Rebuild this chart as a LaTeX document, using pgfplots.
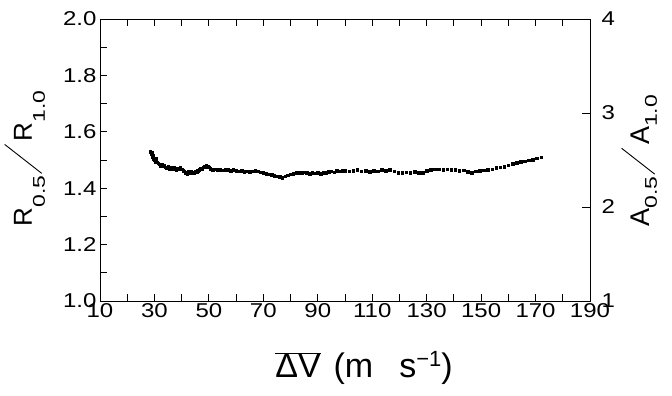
\documentclass[border=0pt]{standalone}
\usepackage{pgfplots}
\pgfplotsset{compat=1.18}
\usepackage{graphicx}
\usepackage{fontspec}
\setmainfont{Liberation Sans}
\newfontfamily\tickfont[FakeStretch=1.2]{Liberation Sans}
\newfontfamily\subfont[FakeStretch=1.35]{Liberation Sans}
\pgfplotstableread{
x y
28.5 1.530
28.8 1.520
29.0 1.525
29.2 1.510
29.5 1.515
29.8 1.505
30.0 1.500
30.3 1.495
30.6 1.505
31.0 1.492
31.4 1.488
31.8 1.485
32.2 1.480
32.6 1.485
33.0 1.478
33.5 1.480
34.0 1.475
34.5 1.472
35.0 1.478
35.5 1.470
36.0 1.475
36.5 1.468
37.0 1.472
37.5 1.470
38.0 1.466
38.5 1.470
39.0 1.468
39.5 1.472
40.0 1.468
40.5 1.462
41.0 1.460
41.5 1.455
42.0 1.452
42.5 1.458
43.0 1.455
43.5 1.460
44.0 1.457
44.5 1.455
45.0 1.460
45.5 1.458
46.0 1.462
46.5 1.466
47.0 1.470
47.5 1.468
48.0 1.474
48.5 1.477
49.0 1.480
49.5 1.478
50.0 1.475
50.5 1.470
51.0 1.468
51.5 1.466
52.0 1.468
53 1.465
54 1.466
55 1.464
56 1.465
57 1.466
58 1.463
59 1.465
60 1.462
61 1.460
62 1.461
63 1.458
64 1.460
65 1.459
66 1.460
67 1.462
68 1.460
69 1.457
70 1.455
71 1.452
72 1.450
73 1.447
74 1.445
75 1.442
76 1.440
77 1.438
78 1.442
79 1.446
80 1.450
81 1.452
82 1.454
83 1.456
84 1.454
85 1.457
86 1.455
87 1.452
88 1.455
89 1.453
90 1.455
91 1.452
92 1.456
93 1.455
94 1.458
95 1.460
96 1.457
97 1.462
98 1.460
99 1.463
100 1.462
101.5 1.460
103 1.462
104.5 1.465
106 1.460
107.5 1.462
109 1.458
110.5 1.462
112 1.460
113.5 1.465
115 1.463
116.5 1.466
118 1.460
119.5 1.455
121 1.455
122.5 1.457
124 1.456
125.5 1.458
127 1.455
128.5 1.455
130 1.462
131.5 1.466
133 1.467
134.5 1.467
136 1.466
137.5 1.467
139 1.465
140.5 1.466
142 1.463
143.5 1.464
145 1.458
146.5 1.455
148 1.460
149.5 1.462
151 1.464
152.5 1.466
154 1.468
155.5 1.472
157 1.474
158.5 1.477
160 1.482
161.5 1.487
163 1.490
164.5 1.493
166 1.496
167.5 1.499
169 1.502
170.5 1.506
172 1.510
}\datatable
\newcommand{\subf}[1]{{\fontsize{17}{19}\subfont #1}}
\newcommand{\myslash}[2]{\raisebox{#2}{\rotatebox{52}{\rule{#1}{0.9pt}}}}
\begin{document}
\begin{tikzpicture}
\path[use as bounding box] (-100pt,-95pt) rectangle (572pt,301pt);
\begin{axis}[
  at={(0,0)}, anchor=south west,
  scale only axis, width=490pt, height=282pt,
  xmin=10, xmax=190, ymin=1, ymax=2,
  xtick={10,30,...,190}, minor xtick={20,40,...,180},
  ytick={1.0,1.2,...,2.0}, minor ytick={1.1,1.3,...,1.9},
  yticklabel style={/pgf/number format/.cd, fixed, fixed zerofill, precision=1},
  /pgf/number format/assume math mode=true,
  xtick pos=both, ytick pos=left,
  tick align=inside,
  major tick length=7pt, minor tick length=7pt,
  every tick/.style={black, line width=0.8pt},
  axis line style={line width=0.8pt},
  tick label style={font=\fontsize{20}{22}\tickfont},
  xticklabel style={yshift=1pt},
  xlabel={$\overline{\mbox{ΔV}}$\hspace{13pt}(m\hspace{26pt}s\raisebox{11pt}{\fontsize{22}{24}\selectfont −1})},
  xlabel style={font=\fontsize{34}{40}\selectfont, at={(axis description cs:0.5388,-0.273)}, anchor=base},
  ylabel={R\raisebox{-13pt}{\subf{0.5}}\hspace{2pt}\myslash{47pt}{-10pt}\hspace{3pt}R\raisebox{-13pt}{\subf{1.0}}},
  ylabel style={font=\fontsize{26}{30}\selectfont, at={(axis description cs:-0.1388,0.252)}, anchor=base west},
]
\addplot[only marks, mark=square*, mark size=1.3pt, black] table[x=x,y=y] {\datatable};
\end{axis}
\begin{axis}[
  at={(0,0)}, anchor=south west,
  scale only axis, width=490pt, height=282pt,
  xmin=10, xmax=190, ymin=1, ymax=4,
  axis x line=none, axis y line*=right,
  ytick={1,2,3,4},
  /pgf/number format/assume math mode=true,
  tick align=inside, major tick length=8pt,
  every tick/.style={black, line width=0.8pt},
  axis line style={line width=0.8pt, -},
  tick label style={font=\fontsize{20}{22}\tickfont},
  yticklabel style={xshift=8pt},
  ylabel={A\raisebox{-7pt}{\subf{0.5}}\hspace{2pt}\myslash{42pt}{-5pt}\hspace{3pt}A\raisebox{-7pt}{\subf{1.0}}},
  ylabel style={font=\fontsize{27}{30}\selectfont, at={(axis description cs:1.1224,0.252)}, anchor=base west},
]
\end{axis}
\end{tikzpicture}
\end{document}
